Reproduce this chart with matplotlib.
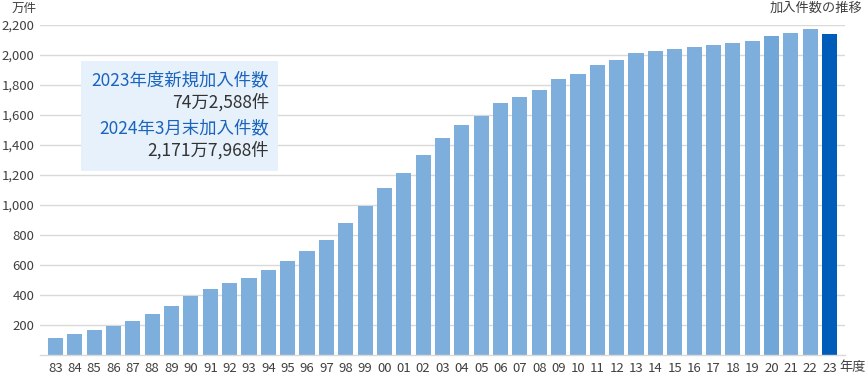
import matplotlib
matplotlib.use("Agg")
import matplotlib.pyplot as plt
from matplotlib.patches import Rectangle

plt.rcParams['font.family'] = ['Noto Sans CJK JP', 'DejaVu Sans']

years = ["83","84","85","86","87","88","89","90","91","92","93","94","95",
         "96","97","98","99","00","01","02","03","04","05","06","07","08",
         "09","10","11","12","13","14","15","16","17","18","19","20","21","22","23"]
values = [113,140,167,193,227,273,327,393,440,480,513,567,627,
          693,767,880,993,1113,1213,1333,1447,1533,1593,1680,1720,1767,
          1840,1873,1933,1967,2013,2027,2040,2053,2067,2080,2093,2127,2147,2171,2140]
yticks = [200,400,600,800,1000,1200,1400,1600,1800,2000,2200]
ytick_labels = ["200","400","600","800","1,000","1,200","1,400","1,600","1,800","2,000","2,200"]

W, H = 865, 374
fig = plt.figure(figsize=(W/100, H/100), dpi=100)
ax = fig.add_axes([40/W, (H-355)/H, (845-40)/W, (355-25)/H])

colors = ["#7eaedc"] * len(years)
colors[years.index("20")] = "#70a6d8"
colors[-1] = "#005cb9"
x = list(range(len(years)))
ax.bar(x, values, width=0.78, color=colors, zorder=2)
ax.set_xlim(-0.80, len(years)-1+0.80)
ax.set_ylim(0, 2200)
ax.set_yticks(yticks)
ax.set_yticklabels(ytick_labels)
ax.set_xticks(x)
ax.set_xticklabels(years)
for yt in yticks:
    ax.axhline(yt, color="#d9d9d9", lw=1, zorder=1)
for s in ["top", "right", "left"]:
    ax.spines[s].set_visible(False)
ax.spines["bottom"].set_color("#d9d9d9")
ax.spines["bottom"].set_linewidth(1)
ax.spines["bottom"].set_zorder(3)
ax.tick_params(axis="both", length=0, labelsize=9.5, colors="#404040")
ax.tick_params(axis="y", pad=4)
ax.tick_params(axis="x", pad=5)

fig.text(839/W, 1-367/H, "年度", ha="left", va="center", fontsize=9.5, color="#404040")
fig.text(12/W, 1-8/H, "万件", ha="left", va="center", fontsize=9, color="#404040")
fig.text(862/W, 1-8/H, "加入件数の推移", ha="right", va="center", fontsize=9.5, color="#404040")

fig.patches.append(Rectangle((81/W, 1-171/H), (278-81)/W, (171-61)/H,
                             transform=fig.transFigure, facecolor="#e6f1fb",
                             edgecolor="none", zorder=5))
tx = 269/W
fig.text(tx, 1-80/H, "2023年度新規加入件数", ha="right", va="center", fontsize=12.5, color="#1a64bd", zorder=6)
fig.text(tx, 1-102/H, "74万2,588件", ha="right", va="center", fontsize=12.5, color="#333333", zorder=6)
fig.text(tx, 1-128/H, "2024年3月末加入件数", ha="right", va="center", fontsize=12.5, color="#1a64bd", zorder=6)
fig.text(tx, 1-150/H, "2,171万7,968件", ha="right", va="center", fontsize=12.5, color="#333333", zorder=6)

fig.savefig("out.png", dpi=100)
